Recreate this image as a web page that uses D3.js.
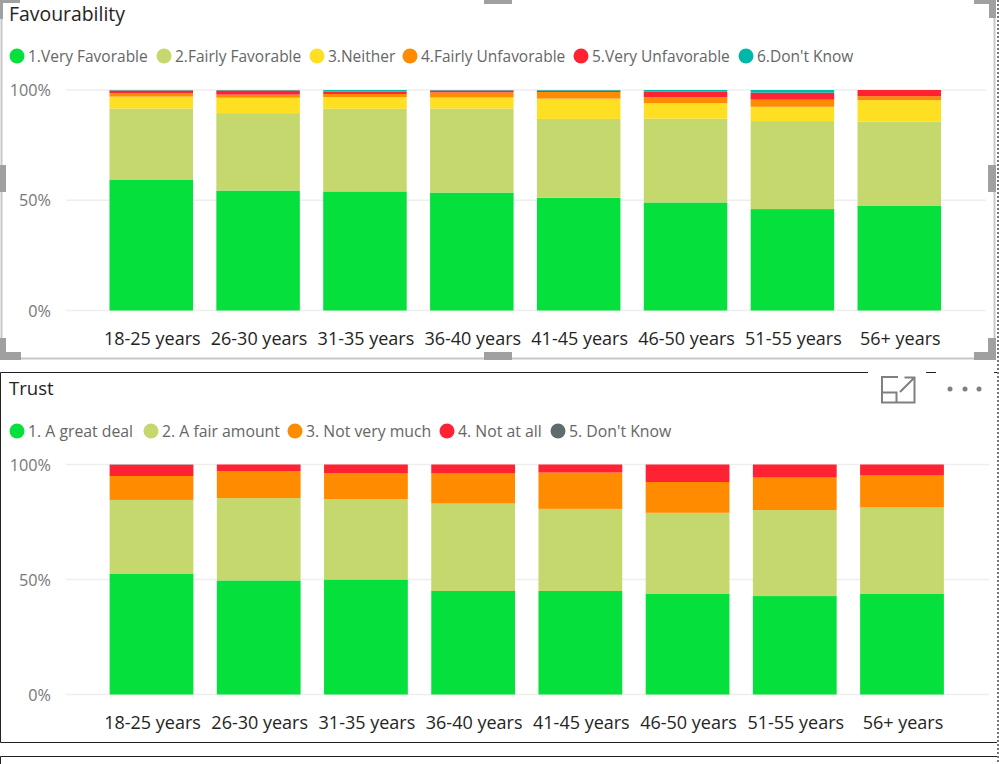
<!DOCTYPE html>
<html><head><meta charset="utf-8">
<script src="https://cdnjs.cloudflare.com/ajax/libs/d3/7.8.5/d3.min.js"></script>
<style>
html,body{margin:0;padding:0;background:#fff;overflow:hidden}
svg{display:block}
text{font-family:"Open Sans","Noto Sans",sans-serif}
</style></head><body>
<svg id="c" width="999" height="764"></svg>
<script>
const ageGroups = ["18-25 years","26-30 years","31-35 years","36-40 years","41-45 years","46-50 years","51-55 years","56+ years"];
const percentTicks = [0,50,100];

const favSeries = ["1.Very Favorable","2.Fairly Favorable","3.Neither","4.Fairly Unfavorable","5.Very Unfavorable","6.Don't Know"];
const favColors = ["#06E03C","#C5D86D","#FFDF22","#FF8C00","#FF2232","#00B8AA"];
const favVeryFavorable   = [59.4,54.4,54.0,53.5,51.1,49.0,46.0,47.6];
const favFairlyFavorable = [32.2,35.1,37.5,38.1,35.8,38.0,39.9,38.0];
const favNeither         = [5.4,7.0,5.3,5.0,9.2,7.0,6.5,9.8];
const favFairlyUnfav     = [1.6,1.4,1.4,2.3,3.0,2.7,3.2,1.8];
const favVeryUnfav       = [1.2,1.9,1.1,0.9,0.6,2.5,3.2,2.8];
const favDontKnow        = [0.2,0.2,0.7,0.2,0.3,0.8,1.2,0.0];

const trustSeries = ["1. A great deal","2. A fair amount","3. Not very much","4. Not at all","5. Don't Know"];
const trustColors = ["#06E03C","#C5D86D","#FF8C00","#FF2232","#5F6B6D"];
const trustGreatDeal  = [52.4,49.6,50.0,45.0,45.0,43.9,42.8,43.9];
const trustFairAmount = [32.2,35.8,35.0,38.0,35.7,35.1,37.4,37.4];
const trustNotVery    = [10.4,11.6,11.3,13.1,15.8,13.4,14.1,13.9];
const trustNotAtAll   = [4.9,3.0,3.7,3.9,3.5,7.6,5.7,4.8];
const trustDontKnow   = [0.1,0,0,0,0,0,0,0];

const svg = d3.select("#c");

function chart(cfg){
  const g = svg.append("g");
  g.append("text").attr("x",9).attr("y",cfg.titleY).attr("font-size",cfg.titleSize).attr("fill","#252423").text(cfg.title);

  const lg = g.append("g");
  cfg.series.forEach((s,i)=>{
    lg.append("circle").attr("cx",cfg.legendX[i]).attr("cy",cfg.legendY).attr("r",7.5).attr("fill",cfg.colors[i]);
    lg.append("text").attr("x",cfg.legendX[i]+11).attr("y",cfg.legendY+6).attr("font-size",cfg.legendSize).attr("fill","#666666").text(s);
  });

  const x = d3.scaleBand().domain(ageGroups).range(cfg.xRange).paddingInner(0.2186).paddingOuter(0.1093);
  const y = d3.scaleLinear().domain([0,100]).range(cfg.yRange);

  g.append("g").selectAll("line").data(percentTicks).join("line")
    .attr("x1",66).attr("x2",cfg.gridEnd)
    .attr("y1",d=>y(d)).attr("y2",d=>y(d))
    .attr("stroke","#EEEEEE").attr("stroke-width",1.5);

  g.append("g").selectAll("text").data(percentTicks).join("text")
    .attr("x",51).attr("y",d=>y(d)+6).attr("text-anchor","end")
    .attr("font-size",16.2).attr("fill","#777777").text(d=>d+"%");

  const rows = ageGroups.map((a,i)=>{
    const r={age:a};
    cfg.series.forEach((s,j)=>r[s]=cfg.values[j][i]);
    return r;
  });
  const stacked = d3.stack().keys(cfg.series)(rows);
  g.append("g").selectAll("g").data(stacked).join("g")
    .attr("fill",(d,i)=>cfg.colors[i])
    .selectAll("rect").data(d=>d).join("rect")
    .attr("x",d=>x(d.data.age)).attr("width",x.bandwidth())
    .attr("y",d=>y(d[1])).attr("height",d=>Math.max(0,y(d[0])-y(d[1])));

  g.append("g").selectAll("text").data(ageGroups).join("text")
    .attr("x",a=>x(a)+x.bandwidth()/2+1).attr("y",cfg.catY)
    .attr("text-anchor","middle").attr("font-size",18).attr("fill","#252423").text(a=>a);
}

function frames(){
  const f = svg.append("g");
  f.append("path").attr("d","M1.5 0V358.5H994.5V0").attr("fill","none").attr("stroke","#C8C8C8").attr("stroke-width",2);
  const h="#A0A0A0";
  [[0,0,20,3],[0,0,3,19],[484,0,28,4],[974,0,22,4],[989,0,7,18],
   [0,165,6,27],[988,165,8,27],
   [0,338,6,22],[0,352,21,8],[484,352,28,8],[974,352,22,8],[988,338,8,22]]
   .forEach(r=>f.append("rect").attr("x",r[0]).attr("y",r[1]).attr("width",r[2]).attr("height",r[3]).attr("fill",h));
  f.append("path").attr("d","M868 372.5H0.5V742.5H997").attr("fill","none").attr("stroke","#222").attr("stroke-width",1);
  f.append("path").attr("d","M926 372.5H936M994 372.5H997").attr("stroke","#222");
  f.append("path").attr("d","M0.5 764V756.5H997").attr("fill","none").attr("stroke","#222");
  f.append("line").attr("x1",998).attr("x2",998).attr("y1",0).attr("y2",764)
    .attr("stroke","#777").attr("stroke-width",2).attr("stroke-dasharray","2 2");
  f.append("path").attr("d","M898 377H882V402.5H914.5V386M882 392.5H896.5V402.5M900 392L914 378M904.5 377.5H914.5V387")
    .attr("fill","none").attr("stroke","#808080").attr("stroke-width",2);
  [950,965,979].forEach(cx=>f.append("circle").attr("cx",cx).attr("cy",389).attr("r",2.5).attr("fill","#808080"));
}
frames();

chart({title:"Favourability",titleY:21,titleSize:19.4,legendSize:15.5,series:favSeries,colors:favColors,
  values:[favVeryFavorable,favFairlyFavorable,favNeither,favFairlyUnfav,favVeryUnfav,favDontKnow],
  legendX:[17,164,317,410,581,746],legendY:56,
  xRange:[97.8,952.7],yRange:[310.5,90],gridEnd:986,catY:345});
chart({title:"Trust",titleY:395,titleSize:18.6,legendSize:15.8,series:trustSeries,colors:trustColors,
  values:[trustGreatDeal,trustFairAmount,trustNotVery,trustNotAtAll,trustDontKnow],
  legendX:[17,151,295,447,558],legendY:431,
  xRange:[97.9,955.6],yRange:[694.5,464.5],gridEnd:989,catY:729});
</script></body></html>
